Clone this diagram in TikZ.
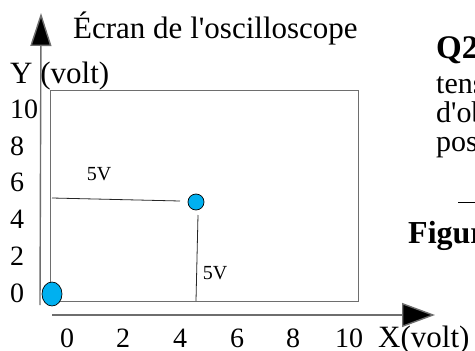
\documentclass[tikz,border=0pt]{standalone}
\usepackage{fontspec}
\setmainfont{Liberation Serif}
\usetikzlibrary{arrows.meta,shapes.geometric}
\definecolor{dotblue}{HTML}{00B0F0}
\definecolor{framegray}{HTML}{6E6E6E}
\begin{document}
\begin{tikzpicture}[x=1pt,y=-1pt,
  lbl/.style={inner sep=0pt,anchor=base west,font=\fontsize{31}{34}\selectfont},
  num/.style={inner sep=0pt,anchor=base west,font=\fontsize{28}{32}\selectfont},
  xnum/.style={inner sep=0pt,anchor=base,font=\fontsize{28}{32}\selectfont},
  small/.style={inner sep=0pt,font=\fontsize{20}{24}\selectfont},
  side/.style={inner sep=0pt,anchor=base west,font=\fontsize{30}{34}\selectfont},
  sidebold/.style={inner sep=0pt,anchor=base west,font=\fontsize{33}{36}\selectfont\bfseries},
  axis/.style={draw=framegray,line width=1.4pt},
  guide/.style={draw=black!85,line width=0.8pt},
  dot/.style={fill=dotblue,draw=black,line width=0.7pt}]
\useasboundingbox (0,0) rectangle (475,351);
\clip (0,0) rectangle (475,351);
% axes
\coordinate (yb) at (40,305);
\coordinate (yt) at (41,13);
\coordinate (xl) at (52,315);
\coordinate (xr) at (435,315);
\draw[axis,-{Triangle[length=33pt,width=21pt,fill=black]}] (yb) -- (yt);
\draw[axis,-{Triangle[length=33pt,width=24pt,fill=black]}] (xl) -- (xr);
% screen frame
\draw[draw=framegray,line width=1pt] (50,90) rectangle (358,301);
% dots
\node[dot,ellipse,minimum width=20pt,minimum height=24pt,inner sep=0pt] (o) at (52,294) {};
\node[dot,circle,minimum size=16pt,inner sep=0pt] (p) at (196,202) {};
% guide lines
\coordinate (hl) at (52,198);
\coordinate (vb) at (196,301);
\draw[guide] (hl) -- (180,201);
\draw[guide] (198,215) -- (vb);
\node[small] (l1) at (99,174) {5V};
\node[small] (l2) at (215,273) {5V};
% titles
\node[lbl] (t) at (73,38) {Écran de l\textquotesingle oscilloscope};
\node[lbl] (yl) at (10,83) {Y (volt)};
\node[lbl] (xlab) at (378,347) {X(volt)};
% y numbers
\node[num] (y10) at (10,118) {10};
\node[num] (y8) at (10,155) {8};
\node[num] (y6) at (10,191) {6};
\node[num] (y4) at (10,228) {4};
\node[num] (y2) at (10,265) {2};
\node[num] (y0) at (10,302) {0};
% x numbers
\node[xnum] (x0) at (67,347) {0};
\node[xnum] (x2) at (123,347) {2};
\node[xnum] (x4) at (180,347) {4};
\node[xnum] (x6) at (237,347) {6};
\node[xnum] (x8) at (293,347) {8};
\node[xnum] (x10) at (349,347) {10};
% side text (cut off at the right edge)
\node[sidebold] (q) at (436,58) {Q2};
\node[side] (s1) at (436,93) {tens};
\node[side] (s2) at (436,122) {d\textquotesingle ob};
\node[side] (s3) at (436,151) {pos};
\coordinate (r1) at (458,202);
\coordinate (r2) at (476,202);
\draw[black,line width=1pt] (r1) -- (r2);
\node[sidebold,font=\fontsize{32}{36}\selectfont\bfseries] (fig) at (408,243) {Figur};
\end{tikzpicture}
\end{document}
